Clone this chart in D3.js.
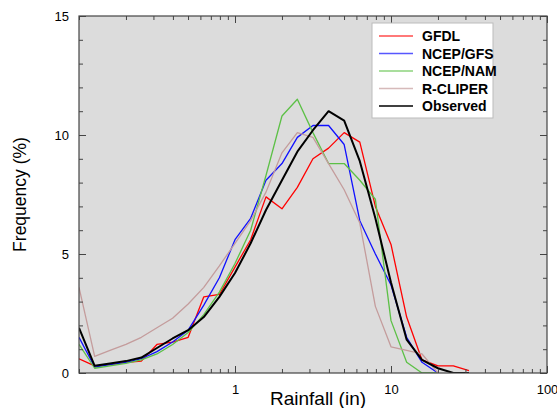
<!DOCTYPE html>
<html lang="en">
<head>
    <meta charset="UTF-8">
    <title>Rainfall Frequency</title>
    <script src="https://d3js.org/d3.v7.min.js"></script>
    <style>
        body { margin: 0; background: #fff; }
        text { font-family: "Liberation Sans", Arial, sans-serif; fill: #000; }
        .frame { fill: none; stroke: #444; stroke-width: 1.2px; }
        .tick line { stroke: #444; }
        .domain { display: none; }
    </style>
</head>
<body>
    <script>
        // rainfall bins (in)
        const rain = [0.1, 0.126, 0.158, 0.2, 0.251, 0.316, 0.398, 0.501, 0.631, 0.794,
                      1, 1.26, 1.58, 2, 2.51, 3.16, 3.98, 5.01, 6.31, 7.94,
                      10, 12.6, 15.8, 20, 25.1, 31.6];

        const gfdl     = [0.6, 0.3, 0.35, 0.45, 0.5, 1.2, 1.3, 1.5, 3.2, 3.3, 4.45, 5.6, 7.4, 6.9, 7.8, 9.0, 9.45, 10.1, 9.7, 7.0, 5.4, 2.35, 0.55, 0.3, 0.3, 0.1];
        const ncepGfs  = [1.5, 0.25, 0.35, 0.45, 0.6, 0.9, 1.3, 1.8, 2.85, 4.0, 5.6, 6.5, 8.1, 8.8, 9.9, 10.4, 10.4, 9.6, 6.4, 5.0, 3.7, 1.5, 0.45, 0];
        const ncepNam  = [1.2, 0.2, 0.3, 0.4, 0.55, 0.8, 1.2, 1.7, 2.45, 3.4, 4.6, 6.0, 8.3, 10.8, 11.5, 10.1, 8.8, 8.8, 8.1, 7.3, 2.2, 0.45, 0, 0];
        const rcliper  = [3.6, 0.7, 0.95, 1.2, 1.5, 1.9, 2.3, 2.9, 3.6, 4.5, 5.45, 6.4, 7.6, 9.25, 10.1, 9.9, 8.8, 7.7, 6.3, 2.8, 1.1, 0.95, 0.8, 0];
        const observed = [1.9, 0.3, 0.4, 0.5, 0.65, 1.05, 1.45, 1.8, 2.35, 3.2, 4.2, 5.45, 6.85, 8.1, 9.3, 10.2, 11.0, 10.6, 8.9, 6.5, 3.8, 1.4, 0.55, 0.2, 0, 0];

        const seriesNames = ["GFDL", "NCEP/GFS", "NCEP/NAM", "R-CLIPER", "Observed"];
        const seriesVals = [gfdl, ncepGfs, ncepNam, rcliper, observed];
        const colors = ["#ff0000", "#1010ff", "#5cc046", "#c49c9c", "#000000"];
        const widths = [1.3, 1.3, 1.3, 1.3, 2];

        const xMajor = [1, 10, 100];
        const yMajor = [0, 5, 10, 15];

        const width = 557, height = 408;
        const m = { left: 79, right: 547, top: 16, bottom: 373 };

        const svg = d3.select("body").append("svg")
            .attr("width", width)
            .attr("height", height);

        const x = d3.scaleLog().domain([0.1, 100]).range([m.left, m.right]);
        const y = d3.scaleLinear().domain([0, 15]).range([m.bottom, m.top]);

        // plot background
        svg.append("rect")
            .attr("x", m.left).attr("y", m.top)
            .attr("width", m.right - m.left).attr("height", m.bottom - m.top)
            .attr("fill", "#dcdcdc");

        svg.append("clipPath").attr("id", "clip")
            .append("rect")
            .attr("x", m.left).attr("y", m.top)
            .attr("width", m.right - m.left).attr("height", m.bottom - m.top);

        // series
        const line = d3.line()
            .x(d => x(d[0]))
            .y(d => y(d[1]));

        svg.append("g").attr("clip-path", "url(#clip)")
            .selectAll("path")
            .data(seriesVals)
            .enter().append("path")
            .attr("d", vals => line(vals.map((v, i) => [rain[i], v])))
            .attr("fill", "none")
            .attr("stroke", (d, i) => colors[i])
            .attr("stroke-width", (d, i) => widths[i])
            .attr("stroke-linejoin", "round");

        // ticks (all pointing inward)
        const xMinor = x.ticks().filter(t => !xMajor.some(v => Math.abs(v - t) < 1e-9));
        const yMinor = d3.range(0, 16).filter(t => t % 5 !== 0);

        svg.append("g").attr("transform", `translate(0,${m.bottom})`)
            .call(d3.axisBottom(x).tickValues(xMajor).tickSize(-7).tickPadding(12).tickFormat(d3.format("d")))
            .call(g => g.selectAll("text").attr("font-size", 13));
        svg.append("g").attr("transform", `translate(0,${m.bottom})`)
            .call(d3.axisBottom(x).tickValues(xMinor).tickSize(-4).tickFormat(""));
        svg.append("g").attr("transform", `translate(0,${m.top})`)
            .call(d3.axisTop(x).tickValues(xMajor).tickSize(-7).tickFormat(""));
        svg.append("g").attr("transform", `translate(0,${m.top})`)
            .call(d3.axisTop(x).tickValues(xMinor).tickSize(-4).tickFormat(""));

        svg.append("g").attr("transform", `translate(${m.left},0)`)
            .call(d3.axisLeft(y).tickValues(yMajor).tickSize(-7).tickPadding(10))
            .call(g => g.selectAll("text").attr("font-size", 13));
        svg.append("g").attr("transform", `translate(${m.left},0)`)
            .call(d3.axisLeft(y).tickValues(yMinor).tickSize(-4).tickFormat(""));
        svg.append("g").attr("transform", `translate(${m.right},0)`)
            .call(d3.axisRight(y).tickValues(yMajor).tickSize(-7).tickFormat(""));
        svg.append("g").attr("transform", `translate(${m.right},0)`)
            .call(d3.axisRight(y).tickValues(yMinor).tickSize(-4).tickFormat(""));

        svg.selectAll(".tick text").attr("font-family", "Liberation Sans, Arial, sans-serif");

        svg.append("rect").attr("class", "frame")
            .attr("x", m.left).attr("y", m.top)
            .attr("width", m.right - m.left).attr("height", m.bottom - m.top);

        // axis titles
        svg.append("text")
            .attr("x", 318).attr("y", 405)
            .attr("text-anchor", "middle")
            .attr("font-size", 19)
            .text("Rainfall (in)");

        svg.append("text")
            .attr("transform", `translate(26,${(m.top + m.bottom) / 2}) rotate(-90)`)
            .attr("text-anchor", "middle")
            .attr("font-size", 17.5)
            .text("Frequency (%)");

        // legend
        const legend = svg.append("g").attr("transform", "translate(372,23)");
        legend.append("rect")
            .attr("width", 121).attr("height", 95)
            .attr("fill", "#fff")
            .attr("stroke", "#bbb");

        const item = legend.selectAll("g.item")
            .data(seriesNames)
            .enter().append("g")
            .attr("class", "item")
            .attr("transform", (d, i) => `translate(0,${13 + i * 17.5})`);

        item.append("line")
            .attr("x1", 7).attr("x2", 41)
            .attr("stroke", (d, i) => colors[i])
            .attr("stroke-opacity", (d, i) => i === 4 ? 1 : 0.7)
            .attr("stroke-width", 1.5);

        item.append("text")
            .attr("x", 50).attr("y", 5)
            .attr("font-size", 14)
            .attr("font-weight", "bold")
            .text(d => d);
    </script>
</body>
</html>
